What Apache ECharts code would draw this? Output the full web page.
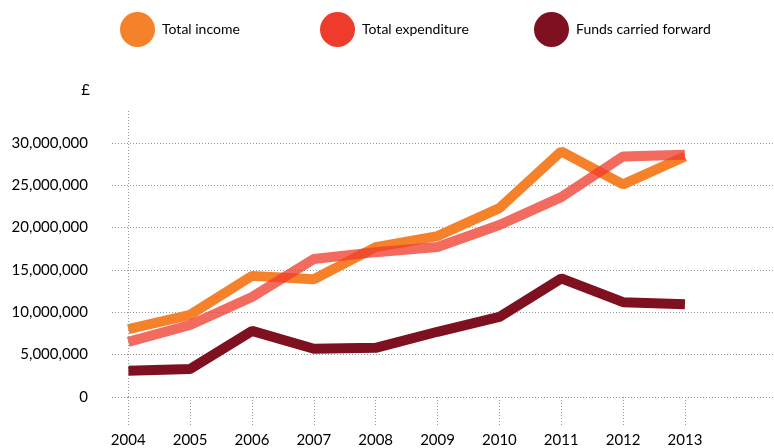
<!DOCTYPE html>
<html>
<head>
<meta charset="utf-8">
<script src="https://cdn.jsdelivr.net/npm/echarts@6/dist/echarts.min.js"></script>
<style>
  html, body { margin: 0; padding: 0; background: #fff; }
  #main { width: 774px; height: 448px; }
</style>
</head>
<body>
<div id="main"></div>
<script>
// data
const years = [2004, 2005, 2006, 2007, 2008, 2009, 2010, 2011, 2012, 2013];
const totalIncome = [8000000, 9700000, 14300000, 13900000, 17700000, 19000000, 22300000, 29000000, 25100000, 28400000];
const totalExpenditure = [6500000, 8500000, 11800000, 16300000, 17100000, 17700000, 20300000, 23600000, 28400000, 28600000];
const fundsForward = [3100000, 3300000, 7800000, 5700000, 5800000, 7700000, 9450000, 14000000, 11200000, 10950000];
const yTicks = [0, 5000000, 10000000, 15000000, 20000000, 25000000, 30000000];

const FONT = 'Lato';
const dotted = { color: '#999999', width: 1, type: [1, 2] };

function pairs(vals) {
    return years.map(function (y, i) { return [y, vals[i]]; });
}

function legendAt(name, left) {
    return {
        data: [name],
        left: left,
        top: 12,
        padding: 0,
        icon: 'circle',
        itemWidth: 35,
        itemHeight: 35,
        selectedMode: false,
        textStyle: { fontFamily: FONT, fontSize: 14, color: '#000', padding: [0, 0, 0, 2] }
    };
}

const chart = echarts.init(document.getElementById('main'), null, { renderer: 'canvas' });

const option = {
    backgroundColor: '#ffffff',
    animation: false,
    legend: [
        legendAt('Total income', 120),
        legendAt('Total expenditure', 320),
        legendAt('Funds carried forward', 534)
    ],
    grid: { left: 112, right: 0, top: 109, bottom: 51 },
    xAxis: {
        type: 'value',
        min: 2003.737,
        max: 2014.44,
        axisLine: { show: false },
        splitLine: { show: false },
        axisTick: { show: true, length: 30, customValues: years, lineStyle: dotted },
        axisLabel: {
            customValues: years,
            margin: 36,
            fontFamily: FONT,
            fontSize: 15,
            color: '#000',
            formatter: function (v) { return String(v); }
        }
    },
    yAxis: {
        type: 'value',
        min: 0,
        max: 34000000,
        name: '£',
        nameGap: 11,
        nameTextStyle: { fontFamily: FONT, fontSize: 15, color: '#000', align: 'right', padding: [0, 22, 0, 0] },
        axisLine: { show: false },
        axisTick: { show: false },
        splitLine: { show: true, showMaxLine: false, lineStyle: dotted },
        axisLabel: {
            customValues: yTicks,
            margin: 24,
            fontFamily: FONT,
            fontSize: 15,
            color: '#000',
            formatter: function (v) { return v.toLocaleString('en-GB'); }
        }
    },
    series: [
        {
            name: 'Total income',
            type: 'line',
            data: pairs(totalIncome),
            showSymbol: false,
            itemStyle: { color: '#F5822A' },
            lineStyle: { width: 10, color: '#F5822A' },
            markLine: {
                silent: true,
                symbol: 'none',
                label: { show: false },
                lineStyle: dotted,
                data: [{ xAxis: years[0] }]
            }
        },
        {
            name: 'Total expenditure',
            type: 'line',
            data: pairs(totalExpenditure),
            showSymbol: false,
            itemStyle: { color: '#EF3B2C' },
            lineStyle: { width: 10, color: '#EF3B2C', opacity: 0.76 }
        },
        {
            name: 'Funds carried forward',
            type: 'line',
            data: pairs(fundsForward),
            showSymbol: false,
            itemStyle: { color: '#7E1020' },
            lineStyle: { width: 10, color: '#7E1020' }
        }
    ]
};

chart.setOption(option);
</script>
</body>
</html>
